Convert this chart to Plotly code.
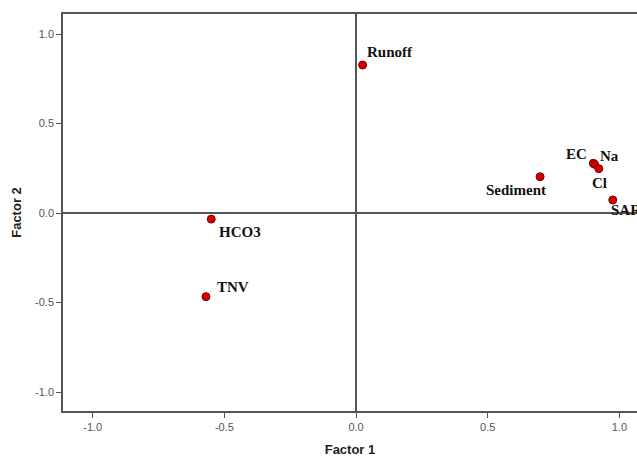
import plotly.graph_objects as go

names = ["Runoff", "EC", "Na", "Cl", "Sediment", "SAR", "HCO3", "TNV"]
factor1 = [0.025, 0.901, 0.906, 0.922, 0.699, 0.975, -0.550, -0.570]
factor2 = [0.827, 0.278, 0.272, 0.248, 0.203, 0.073, -0.034, -0.467]

tick_vals = [-1.0, -0.5, 0.0, 0.5, 1.0]
tick_text = ["-1.0", "-0.5", "0.0", "0.5", "1.0"]

# label placement: (xanchor, yanchor, xshift, yshift)
label_pos = {
    "Runoff": ("left", "middle", 2, 13),
    "EC": ("right", "middle", -4, 9),
    "Na": ("left", "middle", 3, 8),
    "Cl": ("left", "middle", -9, -14),
    "Sediment": ("center", "middle", -24, -13),
    "SAR": ("left", "middle", -4, -10),
    "HCO3": ("left", "middle", 6, -13),
    "TNV": ("left", "middle", 9, 10),
}

fig = go.Figure()
fig.add_trace(go.Scatter(
    x=factor1, y=factor2, mode="markers",
    marker=dict(size=8, color="#d40000", line=dict(color="#7a0000", width=1)),
    showlegend=False, cliponaxis=False,
))

for n, x, y in zip(names, factor1, factor2):
    xa, ya, xs, ys = label_pos[n]
    fig.add_annotation(
        x=x, y=y, xref="x", yref="y", text="<b>" + n + "</b>", showarrow=False,
        xanchor=xa, yanchor=ya, xshift=xs, yshift=ys,
        font=dict(family="Liberation Serif", size=15, color="#111111"),
    )

fig.update_layout(
    width=637, height=457,
    margin=dict(l=63, r=0, t=14, b=46),
    paper_bgcolor="white", plot_bgcolor="white",
    xaxis=dict(
        range=[-1.113, 1.067], tickvals=tick_vals, ticktext=tick_text,
        showgrid=False, zeroline=True, zerolinecolor="#555555", zerolinewidth=1.5,
        showline=True, mirror=True, linecolor="#555555", linewidth=1.5,
        ticks="outside", ticklen=5, tickcolor="#555555",
        tickfont=dict(family="Liberation Sans", size=11, color="#555555"),
        title=dict(text="<b>Factor 1</b>", font=dict(family="Liberation Sans", size=13, color="#222222"), standoff=13),
    ),
    yaxis=dict(
        range=[-1.106, 1.112], tickvals=tick_vals, ticktext=tick_text,
        showgrid=False, zeroline=True, zerolinecolor="#555555", zerolinewidth=1.5,
        showline=True, linecolor="#555555", linewidth=1.5,
        ticks="outside", ticklen=5, tickcolor="#555555",
        tickfont=dict(family="Liberation Sans", size=11, color="#555555"),
        title=dict(text="<b>Factor 2</b>", font=dict(family="Liberation Sans", size=13, color="#222222"), standoff=11),
    ),
)

fig.write_html("out.html", config={"displayModeBar": False},
               post_script="document.body.style.margin='0';document.body.style.overflow='hidden';")
